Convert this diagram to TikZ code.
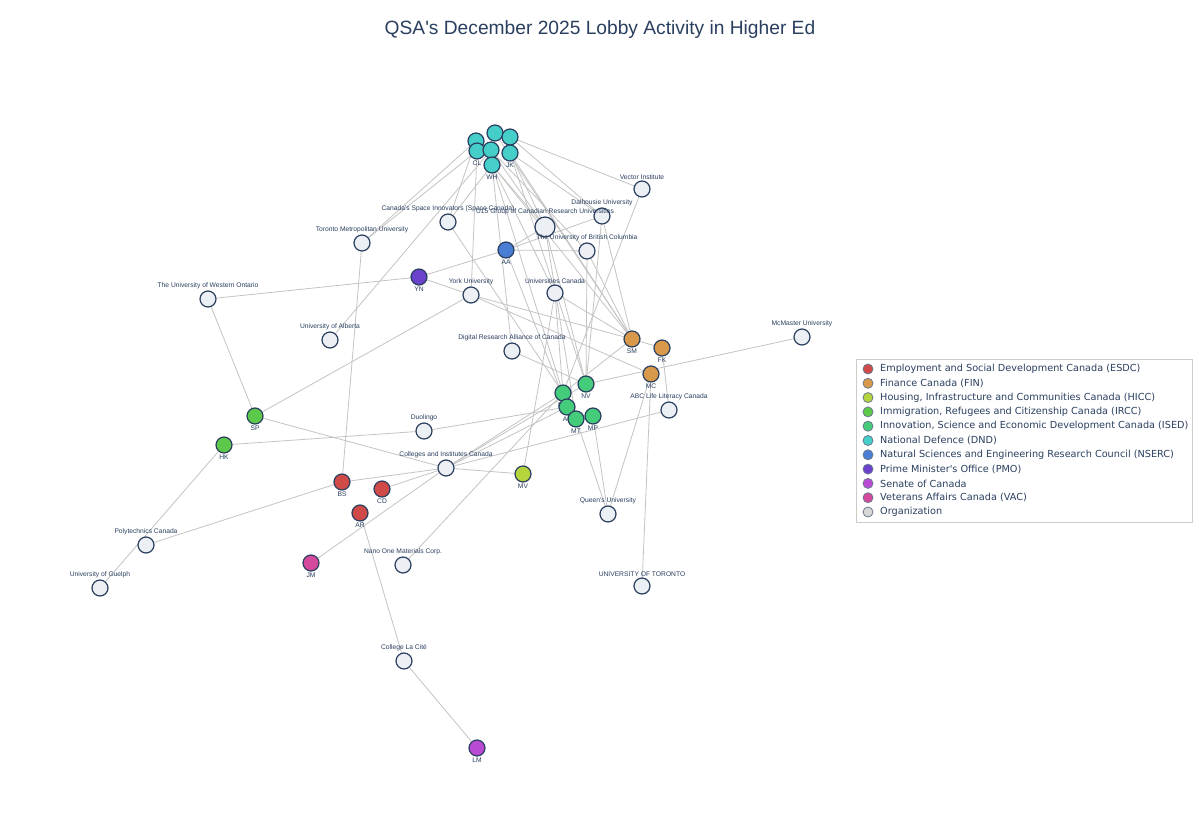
\documentclass[tikz,border=0pt]{standalone}
\usepackage{fontspec}
\setmainfont{Liberation Sans}
\newfontfamily\legendfont{DejaVu Sans}
\usetikzlibrary{positioning}

\definecolor{ink}{HTML}{2A3F5F}
\definecolor{orgfill}{HTML}{ECEFF3}
\definecolor{edgegray}{HTML}{C4C4C4}
\definecolor{esdc}{HTML}{D04A47}
\definecolor{fin}{HTML}{D9994A}
\definecolor{hicc}{HTML}{B6D43C}
\definecolor{ircc}{HTML}{5DC94B}
\definecolor{ised}{HTML}{45CC7B}
\definecolor{dnd}{HTML}{45CFC8}
\definecolor{nserc}{HTML}{4A7DD4}
\definecolor{pmo}{HTML}{6A42CC}
\definecolor{senate}{HTML}{B94AD4}
\definecolor{vac}{HTML}{D4499B}
\definecolor{orgdot}{HTML}{D8D8D8}

\pgfdeclarelayer{edges}
\pgfsetlayers{edges,main}

\begin{document}
\begin{tikzpicture}[x=1pt,y=-1pt,
  orgnode/.style={circle, draw=ink, line width=1.2pt, fill=orgfill, minimum size=16pt, inner sep=0pt},
  person/.style={circle, draw=ink, line width=1.2pt, fill=#1, minimum size=16pt, inner sep=0pt},
  lbl/.style={font=\fontsize{6.7}{7.5}\selectfont, text=ink, inner sep=1pt},
  edge/.style={draw=edgegray, line width=0.8pt},
  legdot/.style={circle, draw=ink!70, line width=0.8pt, fill=#1, minimum size=10pt, inner sep=0pt},
  legtxt/.style={font=\legendfont\fontsize{9.7}{11}\selectfont, text=ink, anchor=west, inner sep=0pt}]

  \useasboundingbox (0,0) rectangle (1200,840);

  \node[font=\fontsize{19.2}{22}\selectfont, text=ink] (title) at (600,30) {QSA\textquotesingle s December 2025 Lobby Activity in Higher Ed};

  % organizations
  \node[orgnode, label={[lbl]above:Vector Institute}] (vec) at (642,189) {};
  \node[orgnode, label={[lbl]above:Dalhousie University}] (dal) at (602,216) {};
  \node[orgnode, label={[lbl]above:Canada\textquotesingle s Space Innovators (Space Canada)}] (space) at (448,222) {};
  \node[orgnode, minimum size=20pt, label={[lbl]above:U15 Group of Canadian Research Universities}] (ufift) at (545,227) {};
  \node[orgnode, label={[lbl]above:The University of British Columbia}] (ubc) at (587,251) {};
  \node[orgnode, label={[lbl]above:Toronto Metropolitan University}] (tmu) at (362,243) {};
  \node[orgnode, label={[lbl]above:York University}] (york) at (471,295) {};
  \node[orgnode, label={[lbl]above:Universities Canada}] (unican) at (555,293) {};
  \node[orgnode, label={[lbl]above:The University of Western Ontario}] (uwo) at (208,299) {};
  \node[orgnode, label={[lbl]above:University of Alberta}] (ualb) at (330,340) {};
  \node[orgnode, label={[lbl]above:Digital Research Alliance of Canada}] (dra) at (512,351) {};
  \node[orgnode, label={[lbl]above:McMaster University}] (mcm) at (802,337) {};
  \node[orgnode, label={[lbl]above:ABC Life Literacy Canada}] (abc) at (669,410) {};
  \node[orgnode, label={[lbl]above:Duolingo}] (duo) at (424,431) {};
  \node[orgnode, label={[lbl]above:Colleges and Institutes Canada}] (cic) at (446,468) {};
  \node[orgnode, label={[lbl]above:Queen\textquotesingle s University}] (queens) at (608,514) {};
  \node[orgnode, label={[lbl]above:Polytechnics Canada}] (poly) at (146,545) {};
  \node[orgnode, label={[lbl]above:University of Guelph}] (guelph) at (100,588) {};
  \node[orgnode, label={[lbl]above:Nano One Materials Corp.}] (nano) at (403,565) {};
  \node[orgnode, label={[lbl]above:UNIVERSITY OF TORONTO}] (uoft) at (642,586) {};
  \node[orgnode, label={[lbl]above:College La Cité}] (cite) at (404,661) {};

  % officials
  \node[person=dnd] (t2) at (495,133) {};
  \node[person=dnd] (t3) at (510,137) {};
  \node[person=dnd] (t1) at (476,141) {};
  \node[person=dnd, label={[lbl]below:CL}] (cl) at (477,151) {};
  \node[person=dnd] (t5) at (491,150) {};
  \node[person=dnd, label={[lbl]below:JK}] (jk) at (510,153) {};
  \node[person=dnd, label={[lbl]below:WH}] (wh) at (492,165) {};
  \node[person=nserc, label={[lbl]below:AA}] (aa) at (506,250) {};
  \node[person=pmo, label={[lbl]below:YN}] (yn) at (419,277) {};
  \node[person=fin, label={[lbl]below:SM}] (sm) at (632,339) {};
  \node[person=fin, label={[lbl]below:FK}] (fk) at (662,348) {};
  \node[person=fin, label={[lbl]below:MC}] (mc) at (651,374) {};
  \node[person=ised, label={[lbl]below:NV}] (nv) at (586,384) {};
  \node[person=ised, label={[lbl]below:FM}] (fm) at (563,393) {};
  \node[person=ised, label={[lbl]below:AL}] (al) at (567,407) {};
  \node[person=ised, label={[lbl]below:MT}] (mt) at (576,419) {};
  \node[person=ised, label={[lbl]below:MP}] (mp) at (593,416) {};
  \node[person=ircc, label={[lbl]below:SP}] (sp) at (255,416) {};
  \node[person=ircc, label={[lbl]below:HK}] (hk) at (224,445) {};
  \node[person=hicc, label={[lbl]below:MV}] (mv) at (523,474) {};
  \node[person=esdc, label={[lbl]below:BS}] (bs) at (342,482) {};
  \node[person=esdc, label={[lbl]below:CD}] (cd) at (382,489) {};
  \node[person=esdc, label={[lbl]below:AR}] (ar) at (360,513) {};
  \node[person=vac, label={[lbl]below:JM}] (jm) at (311,563) {};
  \node[person=senate, label={[lbl]below:LM}] (lm) at (477,748) {};

  % meetings
  \begin{pgfonlayer}{edges}
    \fill[white] (0,0) rectangle (1200,840);
    \foreach \a/\b in {t3/vec, t3/dal, jk/dal, jk/ufift, wh/ufift, t5/ufift, t5/ubc,
        jk/sm, wh/sm, t2/sm, wh/unican, jk/nv, wh/fm, cl/york, t1/tmu, cl/tmu,
        t1/space, wh/space, t5/ualb, wh/dra,
        aa/yn, aa/dal, aa/ufift, aa/ubc, aa/al, yn/uwo, yn/york,
        york/sp, york/sm, york/mc, unican/sm, unican/mv, unican/fm,
        ubc/sm, ubc/nv, dal/sm, dal/nv, vec/fm, ufift/mt, ufift/nv, space/fm,
        dra/nv, sm/fk, sm/fm, fk/abc, mc/queens, mc/uoft, mcm/nv,
        mt/queens, mp/queens, sp/uwo, sp/cic, hk/duo, hk/guelph, duo/al,
        cic/bs, cic/cd, cic/jm, cic/fm, cic/al, cic/nv, cic/abc, cic/mv,
        tmu/bs, poly/bs, ar/cite, cite/lm, nano/fm}
      \draw[edge] (\a) -- (\b);
  \end{pgfonlayer}

  % legend
  \draw[draw=black!20, line width=0.8pt] (856,359) rectangle (1192,522);
  \foreach \c/\t [count=\i from 0] in {
      esdc/{Employment and Social Development Canada (ESDC)},
      fin/{Finance Canada (FIN)},
      hicc/{Housing, Infrastructure and Communities Canada (HICC)},
      ircc/{Immigration, Refugees and Citizenship Canada (IRCC)},
      ised/{Innovation, Science and Economic Development Canada (ISED)},
      dnd/{National Defence (DND)},
      nserc/{Natural Sciences and Engineering Research Council (NSERC)},
      pmo/{Prime Minister\textquotesingle s Office (PMO)},
      senate/{Senate of Canada},
      vac/{Veterans Affairs Canada (VAC)},
      orgdot/{Organization}} {
    \node[legdot=\c] (dot\i) at (868, 369+14.3*\i) {};
    \node[legtxt] (leg\i) at (880, 369+14.3*\i) {\t};
  }
\end{tikzpicture}
\end{document}
